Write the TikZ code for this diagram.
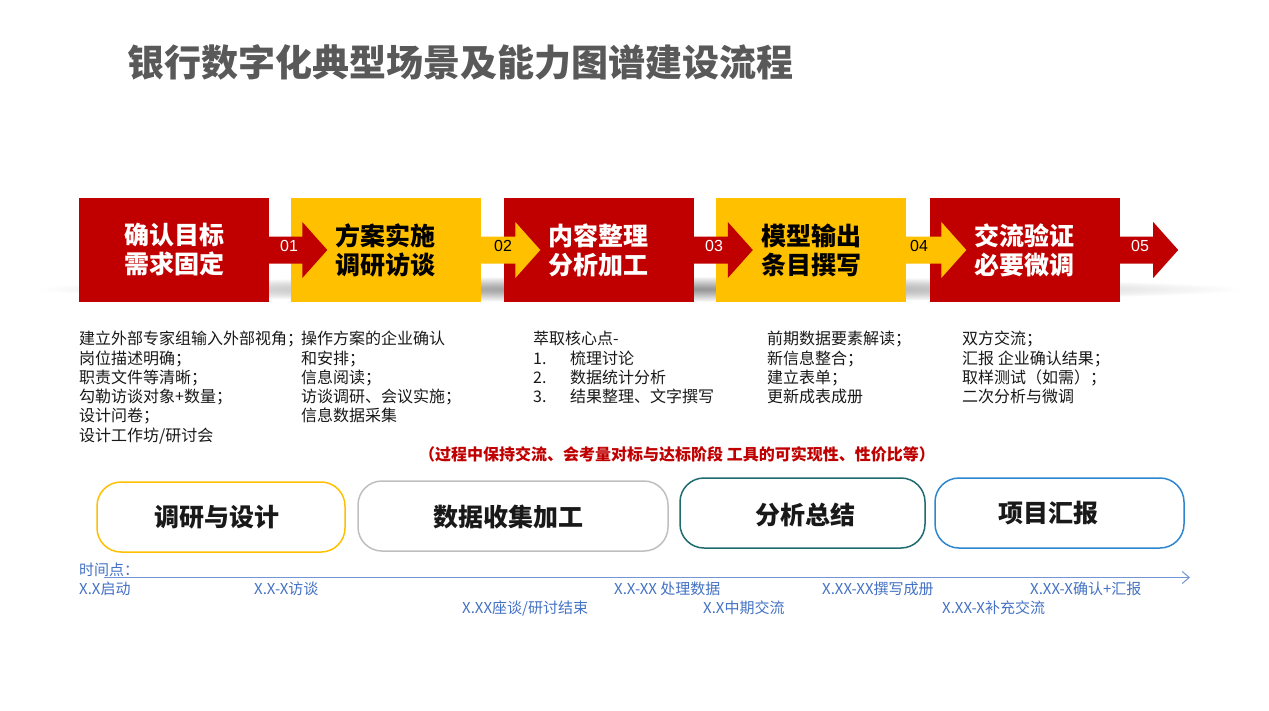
\documentclass[tikz,border=0pt]{standalone}
\usepackage{fontspec}
\setmainfont{Noto Sans CJK SC}
\setsansfont{Liberation Sans}
\usetikzlibrary{arrows.meta,calc}
\definecolor{bred}{HTML}{C00000}
\definecolor{byel}{HTML}{FFC000}
\definecolor{tgray}{HTML}{595959}
\definecolor{tlblue}{HTML}{4472C4}
\definecolor{pgray}{HTML}{BFBFBF}
\definecolor{pteal}{HTML}{1F6B70}
\definecolor{pblue}{HTML}{2E86D0}
\newcommand\flowarrow[3]{%
  \fill[#1] ($(#2)+(-1,-13.5)$) -- ($(#3)+(12,-13.5)$) -- ($(#3)+(12,-28)$) -- ($(#3)+(37,0)$) -- ($(#3)+(12,28)$) -- ($(#3)+(12,13.5)$) -- ($(#2)+(-1,13.5)$) -- cycle;}
\begin{document}
\begin{tikzpicture}[x=1pt,y=-1pt,
 stepbox/.style={minimum width=190pt, minimum height=104pt, inner sep=0pt, align=center, font=\fontsize{25}{29}\selectfont\bfseries},
 redbox/.style={stepbox, fill=bred, text=white},
 yelbox/.style={stepbox, fill=byel, text=black},
 num/.style={font=\sffamily\fontsize{16}{16}\selectfont, inner sep=0pt},
 desc/.style={anchor=north west, align=left, inner sep=0pt, font=\fontsize{16}{19.3}\selectfont, text=black!90},
 pill/.style={rounded corners=24pt, line width=1.5pt, inner sep=0pt, minimum height=70pt},
 pilltext/.style={inner sep=0pt, font=\fontsize{25}{25}\selectfont\bfseries, text=black!90},
 tl/.style={anchor=west, inner sep=0pt, text=tlblue, font=\fontsize{15}{15}\selectfont}
]
\useasboundingbox (0,0) rectangle (1269,710);
\fill[white] (0,0) rectangle (1269,710);

% title
\node[anchor=west, text=tgray, font=\fontsize{37}{37}\selectfont\bfseries, inner sep=0pt] (title) at (127,62) {银行数字化典型场景及能力图谱建设流程};

% shadow under the step boxes
\shade[inner color=black!45, outer color=white] (640,289) ellipse [x radius=605pt, y radius=13pt];

% step boxes
\node[redbox] (b1) at (174,250) {确认目标\\需求固定};
\node[yelbox] (b2) at (385.5,250) {方案实施\\调研访谈};
\node[redbox] (b3) at (598.5,250) {内容整理\\分析加工};
\node[yelbox] (b4) at (811,250) {模型输出\\条目撰写};
\node[redbox] (b5) at (1024.5,250) {交流验证\\必要微调};
\coordinate (e5) at ($(b5.east)+(21.5,0)$);

% block arrows
\flowarrow{bred}{b1.east}{b2.west}
\flowarrow{byel}{b2.east}{b3.west}
\flowarrow{bred}{b3.east}{b4.west}
\flowarrow{byel}{b4.east}{b5.west}
\flowarrow{bred}{b5.east}{e5}

\node[num, text=white] (n1) at (289,246) {01};
\node[num, text=black] (n2) at (503,246) {02};
\node[num, text=white] (n3) at (714,246) {03};
\node[num, text=black] (n4) at (919,246) {04};
\node[num, text=white] (n5) at (1140,246) {05};

% descriptions
\node[desc] (d1) at (79,331) {建立外部专家组输入外部视角；\\岗位描述明确；\\职责文件等清晰；\\勾勒访谈对象+数量；\\设计问卷；\\设计工作坊/研讨会};
\node[desc] (d2) at (301,331) {操作方案的企业确认\\和安排；\\信息阅读；\\访谈调研、会议实施；\\信息数据采集};
\node[desc] (d3) at (533,331) {萃取核心点-\\\makebox[37pt][l]{1.}梳理讨论\\\makebox[37pt][l]{2.}数据统计分析\\\makebox[37pt][l]{3.}结果整理、文字撰写};
\node[desc] (d4) at (767,331) {前期数据要素解读；\\新信息整合；\\建立表单；\\更新成表成册};
\node[desc] (d5) at (962,331) {双方交流；\\汇报\ 企业确认结果；\\取样测试（如需）；\\二次分析与微调};

% red note
\node[font=\fontsize{16}{16}\selectfont\bfseries, text=bred, inner sep=0pt] (note) at (677,454) {（过程中保持交流、会考量对标与达标阶段\ 工具的可实现性、性价比等）};

% phase pills
\node[pill, draw=byel, minimum width=248pt] (p1) at (221,517) {};
\node[pill, draw=pgray, minimum width=310pt] (p2) at (513,516) {};
\node[pill, draw=pteal, minimum width=245pt] (p3) at (802.5,513) {};
\node[pill, draw=pblue, minimum width=249pt] (p4) at (1059.5,513) {};
\node[pilltext] (t1) at (217,517) {调研与设计};
\node[pilltext] (t2) at (508,517) {数据收集加工};
\node[pilltext] (t3) at (805,515) {分析总结};
\node[pilltext] (t4) at (1048,513) {项目汇报};

% timeline
\node[tl] (tlh) at (79,570) {时间点：};
\coordinate (tls) at (104,577.5);
\coordinate (tle) at (1190,577.5);
\draw[draw=tlblue!75, line width=1pt, -{Straight Barb[length=7pt,width=12pt]}] (tls) -- (tle);

\node[tl] (m1) at (79,589) {X.X启动};
\node[tl] (m2) at (254,589) {X.X-X访谈};
\node[tl] (m3) at (614,589) {X.X-XX\ 处理数据};
\node[tl] (m4) at (822,589) {X.XX-XX撰写成册};
\node[tl] (m5) at (1030,589) {X.XX-X确认+汇报};
\node[tl] (m6) at (462,608) {X.XX座谈/研讨结束};
\node[tl] (m7) at (703,608) {X.X中期交流};
\node[tl] (m8) at (942,608) {X.XX-X补充交流};
\end{tikzpicture}
\end{document}
